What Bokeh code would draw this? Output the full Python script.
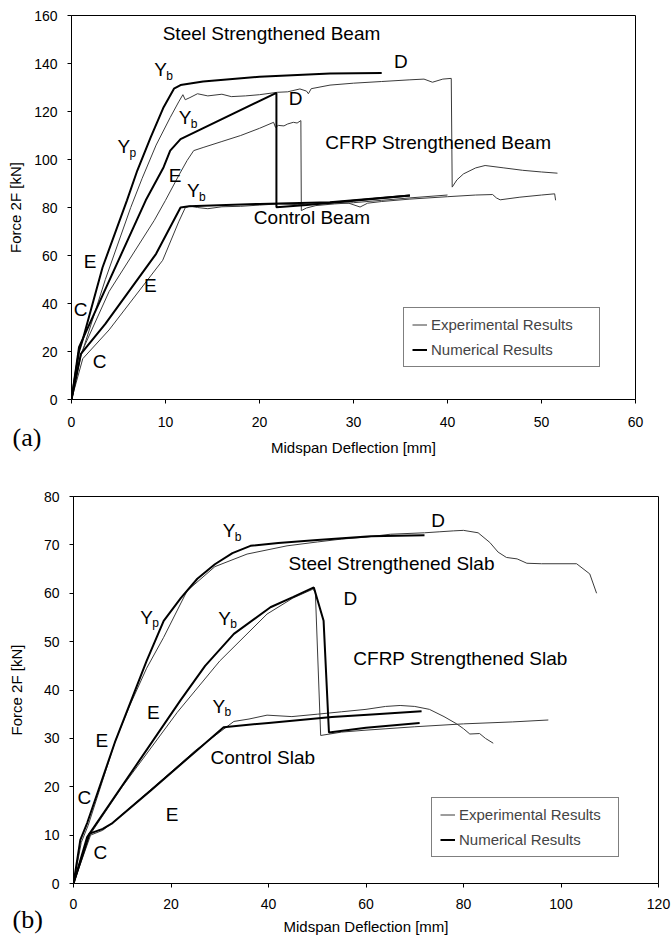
from bokeh.plotting import figure
from bokeh.models import Range1d, SingleIntervalTicker, Legend, LegendItem, Title
from bokeh.embed import file_html
from bokeh.resources import INLINE
from bokeh.core.properties import value

FONT = "Liberation Sans"
SERIF = "Liberation Serif"

# ---------------- Panel (a): beams ----------------
a_steel_num_x = [0, 0.8, 1.2, 3.3, 5.9, 7.0, 8.4, 9.8, 10.9, 11.6, 14, 20, 27.5, 33]
a_steel_num_y = [0, 20, 25, 55, 83, 95.4, 109, 121.8, 129.5, 131, 132.5, 134.5, 135.8, 136]

a_steel_exp_x = [0, 1.0, 3.6, 6.3, 7.5, 9, 10.5, 11.4, 11.85, 12.1, 12.6, 13.4, 14.5, 16, 17, 18.5,
                 20, 21.9, 23, 24.3, 25.0, 25.2, 25.5, 27.5, 30, 33, 36, 37.5, 38.4, 39.5, 40.4,
                 40.5, 41, 41.7, 43, 44, 46, 48, 50, 51.7]
a_steel_exp_y = [0, 18, 50, 80, 92, 106, 117.5, 124, 127, 124.9, 125.8, 127.4, 126.5, 127.2, 126.2, 126.5,
                 127, 128, 128.2, 129.4, 128.5, 127.4, 129.5, 131, 131.8, 132.5, 133.2, 133.5, 132.2, 133.5, 133.8,
                 88.5, 91.5, 94, 96.5, 97.5, 96.5, 95.5, 94.8, 94.3]

a_cfrp_num_x = [0, 0.8, 7.9, 9.8, 10.5, 11.6, 21.8, 21.8, 25, 30, 36]
a_cfrp_num_y = [0, 21.8, 83, 96.8, 103.7, 108.5, 127.8, 80.1, 81, 82.8, 85]

a_cfrp_exp_x = [0, 1.0, 4, 8.8, 10, 11.5, 12.3, 13, 14, 16, 18, 20, 21.5, 21.7, 22.0, 22.6, 23.0,
                23.6, 24.0, 24.4, 24.45, 25, 26, 28, 30, 33, 36, 40]
a_cfrp_exp_y = [0, 19, 45, 74.6, 83, 94, 99.6, 103.7, 105, 107.5, 110, 113, 115.5, 113.4, 114.2, 114, 114.8,
                115.5, 115.2, 116.2, 78.7, 79.8, 80.8, 81.5, 82, 83, 84, 85.2]

a_ctrl_num_x = [0, 1.0, 3.6, 9.0, 11.6, 12.5, 20, 27.5, 36]
a_ctrl_num_y = [0, 19, 31.5, 60.7, 80, 80.5, 81.5, 82.2, 85]

a_ctrl_exp_x = [0, 1.2, 4, 9.7, 11.4, 12.1, 12.6, 13.4, 14.5, 16, 18, 20, 22, 24, 26, 28, 29.5, 30.7,
                31.5, 33, 36, 40, 43, 44.8, 45.2, 45.6, 47.7, 50, 51.4, 51.5]
a_ctrl_exp_y = [0, 17, 29, 58, 74, 79.9, 80.6, 80, 79.5, 80.3, 80.5, 81, 81.5, 81.2, 81.5, 82, 81.8, 80.2,
                81.8, 82.5, 83.5, 84.5, 85.2, 85.4, 84, 83.2, 84.3, 85.2, 85.7, 83]

a_text = ["Steel Strengthened Beam", "D", "D", "E", "CFRP Strengthened Beam", "Control Beam",
          "E", "C", "E", "C"]
a_text_x = [9.7, 34.3, 23.1, 10.35, 27, 19.4, 1.3, 0.25, 7.7, 2.25]
a_text_y = [152.5, 140.8, 125.4, 93.3, 107, 75.8, 57.3, 37.3, 47.7, 16]

a_yl_x = [8.8, 4.9, 11.4, 12.3]
a_yl_y = [137.5, 105.4, 117.5, 87]
a_yl_sub = ["b", "p", "b", "b"]

# ---------------- Panel (b): slabs ----------------
b_steel_num_x = [0, 1.4, 2.8, 8.6, 11.5, 15, 18.5, 22, 25.4, 29, 32.6, 36.3, 42, 50, 61, 72]
b_steel_num_y = [0, 9, 12.5, 29.5, 37, 46, 54.3, 59, 63, 66, 68.3, 69.8, 70.4, 71, 71.8, 72]

b_steel_exp_x = [0, 1.6, 3, 8.6, 11.5, 15, 18.5, 23.3, 29, 35.6, 43.8, 50, 55, 60, 65, 72, 75, 78, 80,
                 83, 85.4, 87.1, 88.8, 91, 93, 96, 100, 103.2, 105.9, 107.3]
b_steel_exp_y = [0, 8.5, 12, 29.5, 36.7, 44.5, 50.9, 60.5, 65.5, 68.1, 69.8, 70.6, 71.2, 71.6, 72.2, 72.5,
                 72.7, 72.9, 73, 72.5, 70.5, 68.5, 67.4, 67.1, 66.2, 66.1, 66.1, 66.1, 64, 60]

b_cfrp_num_x = [0, 2.8, 21.9, 27, 32.9, 40.4, 45, 49.3, 51.3, 52.4, 60, 71]
b_cfrp_num_y = [0, 9.6, 37.8, 45, 51.6, 57.1, 59.2, 61.2, 54.3, 31.2, 32.2, 33.2]

b_cfrp_exp_x = [0, 3, 10, 21.3, 30, 39.7, 45, 49.0, 49.6, 50.7, 55, 60, 70, 80, 90, 97.4]
b_cfrp_exp_y = [0, 9.5, 20, 35.4, 46, 55.7, 59, 60.8, 60.5, 30.6, 31.3, 31.7, 32.4, 33, 33.4, 33.8]

b_ctrl_num_x = [0, 3.3, 6, 8, 15.8, 30.8, 40, 53, 62, 71.4]
b_ctrl_num_y = [0, 10.3, 11.3, 12.5, 19.2, 32.3, 33.2, 34.4, 35, 35.6]

b_ctrl_exp_x = [0, 3.5, 6, 8.5, 16, 25, 32.9, 36, 39.7, 44.8, 50, 55, 60, 64, 67, 70, 73, 76, 78.6,
                80, 81.3, 83.3, 84.5, 86.1]
b_ctrl_exp_y = [0, 10, 11, 13, 19.5, 27.5, 33.5, 34, 34.8, 34.5, 35, 35.5, 36, 36.6, 36.8, 36.6, 36,
                34.5, 33, 32, 30.9, 31, 30, 29]

b_text = ["D", "Steel Strengthened Slab", "D", "CFRP Strengthened Slab", "E", "E", "Control Slab",
          "C", "E", "C"]
b_text_x = [73.4, 44.1, 55.4, 57.4, 15.1, 4.5, 28.1, 0.8, 18.9, 4.1]
b_text_y = [75, 66.1, 59, 46.5, 35.4, 29.5, 26, 17.8, 14.3, 6.4]

b_yl_x = [30.6, 13.7, 29.7, 28.5]
b_yl_y = [72.9, 55, 54.8, 36.6]
b_yl_sub = ["b", "p", "b", "b"]

EXP_COLOR = "#3a3a3a"


def build(width, height, xr, yr, xint, yint, borders, stand, curves, texts, ylabels,
          legend_loc, legend_lw, tag, tag_off):
    p = figure(width=width, height=height, x_range=Range1d(*xr), y_range=Range1d(*yr),
               output_backend="svg", toolbar_location=None)
    p.min_border_left, p.min_border_right, p.min_border_top, p.min_border_bottom = borders
    p.outline_line_color = "black"
    p.outline_line_width = 1
    p.xgrid.visible = False
    p.ygrid.visible = False
    p.background_fill_color = "white"
    p.border_fill_color = "white"

    for ax, interval in ((p.xaxis, xint), (p.yaxis, yint)):
        ax.ticker = SingleIntervalTicker(interval=interval)
        ax.minor_tick_line_color = None
        ax.major_tick_in = 0
        ax.major_tick_out = 4
        ax.axis_line_color = "black"
        ax.major_tick_line_color = "black"
        ax.major_label_text_font = FONT
        ax.major_label_text_font_size = "14px"
        ax.major_label_text_color = "black"
        ax.axis_label_text_font = FONT
        ax.axis_label_text_font_size = "15px"
        ax.axis_label_text_font_style = "normal"
        ax.axis_label_text_color = "black"
    p.xaxis.axis_label = "Midspan Deflection [mm]"
    p.yaxis.axis_label = "Force 2F [kN]"
    p.xaxis.major_label_standoff = stand[0]
    p.xaxis.axis_label_standoff = stand[1]
    p.yaxis.major_label_standoff = stand[2]
    p.yaxis.axis_label_standoff = stand[3]

    exp_r = None
    num_r = None
    for (xs, ys, kind) in curves:
        if kind == "exp":
            exp_r = p.line(xs, ys, line_color=EXP_COLOR, line_width=1)
        else:
            num_r = p.line(xs, ys, line_color="black", line_width=2)

    tx, ty, tt = texts
    p.text(x=tx, y=ty, text=tt, text_font=value(FONT), text_font_size="19px",
           text_align="left", text_baseline="middle", text_color="black")
    yx, yy, ys = ylabels
    p.text(x=yx, y=yy, text=["Y"] * len(yx), text_font=value(FONT), text_font_size="19px",
           text_align="left", text_baseline="middle", text_color="black")
    p.text(x=yx, y=yy, text=ys, text_font=value(FONT), text_font_size="12px",
           text_align="left", text_baseline="middle", text_color="black",
           x_offset=12, y_offset=6)

    leg = Legend(items=[LegendItem(label="Experimental Results", renderers=[exp_r]),
                        LegendItem(label="Numerical Results", renderers=[num_r])],
                 location=legend_loc)
    leg.label_text_font = FONT
    leg.label_text_font_size = "15px"
    leg.glyph_width = 15
    leg.glyph_height = 17
    leg.label_height = 17
    leg.label_width = legend_lw
    leg.label_standoff = 4
    leg.padding = 8
    leg.spacing = 8
    leg.margin = 0
    leg.border_line_color = "black"
    leg.border_line_width = 1
    leg.background_fill_alpha = 1
    p.add_layout(leg, "center")

    t = Title(text=tag, align="left", offset=tag_off[0], standoff=tag_off[1],
              text_font=SERIF, text_font_size="26px", text_font_style="normal",
              text_color="black", vertical_align="top")
    p.add_layout(t, "below")
    return p


pa = build(672, 463, (0, 60), (0, 160), 10, 20, (71, 37, 15, 64), (13, 9, 10, 7),
           [(a_steel_exp_x, a_steel_exp_y, "exp"), (a_cfrp_exp_x, a_cfrp_exp_y, "exp"),
            (a_ctrl_exp_x, a_ctrl_exp_y, "exp"),
            (a_steel_num_x, a_steel_num_y, "num"), (a_cfrp_num_x, a_cfrp_num_y, "num"),
            (a_ctrl_num_x, a_ctrl_num_y, "num")],
           (a_text_x, a_text_y, a_text), (a_yl_x, a_yl_y, a_yl_sub), (332, 32), 160,
           "(a)", (-59, -72))

pb = build(672, 477, (0, 120), (0, 80), 20, 10, (73, 14, 33, 57), (11, 6, 10, 16),
           [(b_steel_exp_x, b_steel_exp_y, "exp"), (b_cfrp_exp_x, b_cfrp_exp_y, "exp"),
            (b_ctrl_exp_x, b_ctrl_exp_y, "exp"),
            (b_steel_num_x, b_steel_num_y, "num"), (b_cfrp_num_x, b_cfrp_num_y, "num"),
            (b_ctrl_num_x, b_ctrl_num_y, "num")],
           (b_text_x, b_text_y, b_text), (b_yl_x, b_yl_y, b_yl_sub), (358, 26), 151,
           "(b)", (-61, -66))

open("out.html", "w").write(file_html([pa, pb], INLINE))
